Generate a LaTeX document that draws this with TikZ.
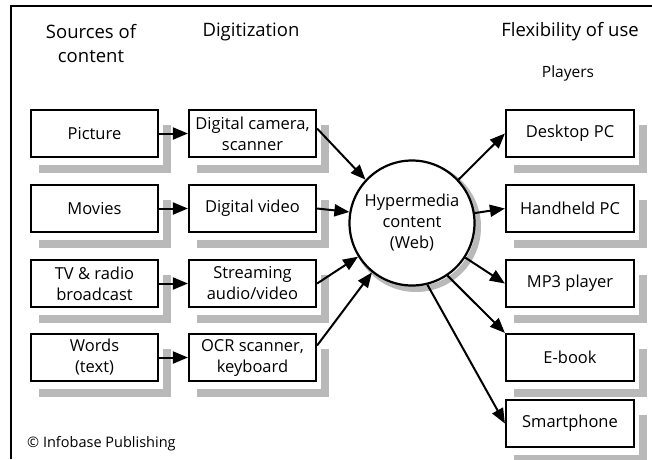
\documentclass[tikz,border=0pt]{standalone}
\usepackage{fontspec}
\setmainfont{Open Sans}
\usetikzlibrary{arrows.meta}
\definecolor{shgray}{RGB}{185,185,185}
\begin{document}
\begin{tikzpicture}[x=1pt,y=-1pt,
  box/.style={draw,line width=2.2pt,fill=white,minimum width=127pt,minimum height=47pt,
    inner sep=0pt,align=center,font=\fontsize{16.5}{21}\selectfont},
  hubst/.style={circle,draw,line width=2.2pt,fill=white,minimum size=125pt,inner sep=0pt,
    align=center,font=\fontsize{16.5}{21}\selectfont},
  hdr/.style={align=center,font=\fontsize{18.5}{24}\selectfont,inner sep=0pt},
  shline/.style={draw=shgray,line width=8pt,line cap=butt,line join=miter},
  arr/.style={line width=2pt,-{Triangle[length=15pt,width=12pt]}}]
\useasboundingbox (0,0) rectangle (652,459);
\draw[line width=1.6pt] (11,459) -- (11,6) -- (652,6);
% shadows as thick lines, drawn first
\draw[shline] (167,125) -- (167,169) -- (39,169);
\draw[shline] (167,200) -- (167,244) -- (39,244);
\draw[shline] (167,275) -- (167,319) -- (39,319);
\draw[shline] (167,349) -- (167,393) -- (39,393);
\draw[shline] (325,125) -- (325,169) -- (197,169);
\draw[shline] (325,200) -- (325,244) -- (197,244);
\draw[shline] (325,275) -- (325,319) -- (197,319);
\draw[shline] (325,349) -- (325,393) -- (197,393);
\draw[shline] (643,125) -- (643,169) -- (514,169);
\draw[shline] (643,200) -- (643,244) -- (514,244);
\draw[shline] (643,275) -- (643,319) -- (514,319);
\draw[shline] (643,349) -- (643,393) -- (514,393);
\draw[shline] (643,415) -- (643,459) -- (514,459);
\draw[draw=shgray,line width=6pt] (416,227) circle[radius=62];
% headers
\node[hdr] (h1) at (91,44) {Sources of\\content};
\node[hdr] (h2) at (251,32) {Digitization};
\node[hdr] (h3) at (570,32) {Flexibility of use};
\node[hdr,font=\fontsize{15.5}{18}\selectfont] (h4) at (568,73) {Players};
% sources
\node[box] (pic) at (94.5,133.5) {Picture};
\node[box] (mov) at (94.5,208.5) {Movies};
\node[box] (tv) at (94.5,283.5) {TV \& radio\\broadcast};
\node[box] (wrd) at (94.5,357.5) {Words\\(text)};
% digitization
\node[box] (cam) at (252.5,133.5) {Digital camera,\\scanner};
\node[box] (vid) at (252.5,208.5) {Digital video};
\node[box] (str) at (252.5,283.5) {Streaming\\audio/video};
\node[box] (ocr) at (252.5,357.5) {OCR scanner,\\keyboard};
% hub
\node[hubst] (hub) at (412,223) {Hypermedia\\content\\(Web)};
% players
\node[box,minimum width=128pt] (desk) at (570,133.5) {Desktop PC};
\node[box,minimum width=128pt] (hand) at (570,208.5) {Handheld PC};
\node[box,minimum width=128pt] (mp3) at (570,283.5) {MP3 player};
\node[box,minimum width=128pt] (ebk) at (570,357.5) {E-book};
\node[box,minimum width=128pt] (smt) at (570,423.5) {Smartphone};
% credit
\node[anchor=west,inner sep=0pt,font=\fontsize{14.5}{16}\selectfont] (cr) at (27,444) {\textcopyright\ Infobase Publishing};
% arrows
\draw[arr] (pic) -- (cam);
\draw[arr] (mov) -- (vid);
\draw[arr] (tv) -- (str);
\draw[arr] (wrd) -- (ocr);
\draw[arr] ([yshift=5pt]cam.east) -- (hub.137);
\draw[arr] (vid.east) -- (hub.170);
\draw[arr] (str.east) -- (hub.212);
\draw[arr] ([yshift=12pt]ocr.east) -- (hub.231);
\draw[arr] (hub.43) -- (desk.west);
\draw[arr] (hub.9) -- (hand.west);
\draw[arr] (hub.-33) -- (mp3.west);
\draw[arr] (hub.-56) -- (ebk.north west);
\draw[arr] (hub.-76) -- (smt.west);
\end{tikzpicture}
\end{document}
